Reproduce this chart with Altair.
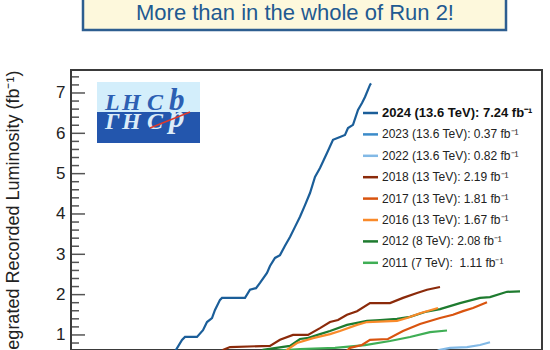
import altair as alt
import pandas as pd

# ---------------- data ----------------
years = ["2011", "2012", "2016", "2017", "2018", "2022", "2023", "2024"]
colors = ["#3fae55", "#1e7b2f", "#f98a2a", "#d9540f", "#8b2a0a", "#82b9e6", "#3b8bc9", "#1b5e99"]
widths = [2.2, 2.2, 2.2, 2.2, 2.2, 2.2, 2.2, 2.6]

day_2011 = [79.5, 99.5, 114.5, 132, 147, 159.5, 169.5, 179.5, 188]
lum_2011 = [0.0, 0.60, 0.65, 0.68, 0.75, 0.85, 0.95, 1.07, 1.11]

day_2012 = [84.5, 96, 109.5, 114.5, 118, 124.5, 129.5, 138, 148, 154.5, 163, 169.5, 177, 184.5, 194.5, 204.5, 209.5, 218, 224.5]
lum_2012 = [0.0, 0.63, 0.73, 0.90, 0.92, 1.02, 1.10, 1.25, 1.35, 1.37, 1.40, 1.45, 1.57, 1.64, 1.79, 1.92, 1.94, 2.07, 2.08]

day_2016 = [97, 108, 113, 121, 129.5, 134.5, 143, 148, 163, 168, 174.5, 183.5]
lum_2016 = [0.0, 0.63, 0.80, 0.92, 1.02, 1.10, 1.25, 1.32, 1.35, 1.42, 1.54, 1.67]

day_2017 = [124.5, 139.5, 145.5, 149.5, 158.5, 166, 174.5, 184.5, 191, 196, 201, 208]
lum_2017 = [0.0, 0.68, 0.75, 0.88, 0.90, 1.10, 1.27, 1.42, 1.50, 1.59, 1.67, 1.81]

day_2018 = [67, 76, 79.5, 99.5, 104.5, 111, 118.5, 124.5, 129.5, 133.5, 138, 143, 149.5, 159.5, 166, 173, 178, 184.5]
lum_2018 = [0.0, 0.63, 0.70, 0.73, 0.88, 1.00, 1.00, 1.17, 1.32, 1.37, 1.50, 1.59, 1.79, 1.79, 1.92, 2.04, 2.12, 2.19]

day_2022 = [154.5, 184.5, 189.5, 198, 204.5, 209.5]
lum_2022 = [0.0, 0.63, 0.68, 0.70, 0.75, 0.82]

day_2023 = [60, 100, 140, 175]
lum_2023 = [0.0, 0.10, 0.25, 0.37]

day_2024 = [44.5, 52.5, 55.5, 57, 63, 66, 68, 70.5, 72, 74.5, 75.5, 87, 89.5, 92.5, 94.5, 98, 99.5, 102,
            104.5, 107, 109.5, 112, 114.5, 117, 119.5, 122, 124.5, 128, 131, 134.5, 137, 138.5, 141,
            143.5, 145.5, 147, 149.5, 150]
lum_2024 = [0.0, 0.63, 0.875, 0.95, 0.95, 1.12, 1.32, 1.42, 1.62, 1.87, 1.92, 1.92, 2.12, 2.16, 2.29, 2.54,
            2.71, 2.91, 2.98, 3.21, 3.43, 3.68, 3.93, 4.22, 4.52, 4.92, 5.14, 5.51, 5.84, 5.91, 5.96, 6.13,
            6.21, 6.58, 6.75, 6.90, 7.20, 7.24]

legend_labels = [
    "2024 (13.6 TeV): 7.24 fb\u207b\u00b9",
    "2023 (13.6 TeV): 0.37 fb\u207b\u00b9",
    "2022 (13.6 TeV): 0.82 fb\u207b\u00b9",
    "2018 (13 TeV): 2.19 fb\u207b\u00b9",
    "2017 (13 TeV): 1.81 fb\u207b\u00b9",
    "2016 (13 TeV): 1.67 fb\u207b\u00b9",
    "2012 (8 TeV): 2.08 fb\u207b\u00b9",
    "2011 (7 TeV): \u00a01.11 fb\u207b\u00b9",
]
legend_years = ["2024", "2023", "2022", "2018", "2017", "2016", "2012", "2011"]
legend_bold = [True, False, False, False, False, False, False, False]

major_ticks = [1, 2, 3, 4, 5, 6, 7]
minor_ticks = [0.8, 1.2, 1.4, 1.6, 1.8, 2.2, 2.4, 2.6, 2.8, 3.2, 3.4, 3.6, 3.8, 4.2, 4.4, 4.6, 4.8,
               5.2, 5.4, 5.6, 5.8, 6.2, 6.4, 6.6, 6.8, 7.2, 7.4]

banner_text = "More than in the whole of Run 2!"
y_title = "Integrated Recorded Luminosity (fb\u207b\u00b9)"

# ---------------- build tables ----------------
series = {
    "2011": (day_2011, lum_2011), "2012": (day_2012, lum_2012), "2016": (day_2016, lum_2016),
    "2017": (day_2017, lum_2017), "2018": (day_2018, lum_2018), "2022": (day_2022, lum_2022),
    "2023": (day_2023, lum_2023), "2024": (day_2024, lum_2024),
}
rows = []
for yr in years:
    d, v = series[yr]
    for a, b in zip(d, v):
        rows.append({"year": yr, "day": a, "v": b})
df = pd.DataFrame(rows)
color_of = dict(zip(years, colors))

one = pd.DataFrame({"k": [0]})
FONT = "Liberation Sans"

W, H = 471, 280
Y_LO, Y_HI = 0.627, 7.57
x_scale = alt.Scale(domain=[0, 235.5], nice=False, zero=False)
y_scale = alt.Scale(domain=[Y_LO, Y_HI], nice=False, zero=False)

lines = alt.Chart(df).mark_line(clip=True).encode(
    x=alt.X("day:Q", scale=x_scale, axis=None),
    y=alt.Y("v:Q", scale=y_scale,
            axis=alt.Axis(values=major_ticks, ticks=False, domain=False, grid=False,
                          labelFont=FONT, labelFontSize=17, labelColor="#222", labelPadding=6,
                          title=y_title, titleFont=FONT, titleFontSize=18, titleFontWeight="normal",
                          titleColor="#222", titleAngle=270, titleAlign="right",
                          titleBaseline="alphabetic", titleX=-53, titleY=0)),
    color=alt.Color("year:N", scale=alt.Scale(domain=years, range=colors), legend=None),
    size=alt.Size("year:N", scale=alt.Scale(domain=years, range=widths), legend=None),
)


def tick_y(t):
    # pixel position of an axis tick value inside the plot area (same mapping as y_scale)
    return H * (Y_HI - t) / (Y_HI - Y_LO)


# inward-pointing ticks on the left frame (13 px major, 7 px minor), drawn as thin rectangles
tick_layers = []
for t in major_ticks:
    yy = tick_y(t)
    tick_layers.append(alt.Chart(one).mark_rect(color="#555", opacity=1).encode(
        x=alt.value(1), x2=alt.value(14), y=alt.value(yy - 0.75), y2=alt.value(yy + 0.75)))
for t in minor_ticks:
    yy = tick_y(t)
    tick_layers.append(alt.Chart(one).mark_rect(color="#555", opacity=1).encode(
        x=alt.value(1), x2=alt.value(8), y=alt.value(yy - 0.75), y2=alt.value(yy + 0.75)))

# legend (drawn by hand so that the 2024 entry can be bold)
legend_layers = []
for i, (lab, yr, bold) in enumerate(zip(legend_labels, legend_years, legend_bold)):
    row_y = 43 + 21.4 * i
    legend_layers.append(alt.Chart(one).mark_rule(color=color_of[yr], strokeWidth=2.5).encode(
        x=alt.value(292), x2=alt.value(307), y=alt.value(row_y)))
    legend_layers.append(alt.Chart(one).mark_text(
        text=lab, align="left", baseline="middle", font=FONT,
        fontSize=13 if bold else 12, fontWeight="bold" if bold else "normal",
        color="#111" if bold else "#222").encode(x=alt.value(311), y=alt.value(row_y)))

# banner above the frame
banner_box = alt.Chart(one).mark_rect(fill="#fdf8dc", stroke="#2d5e90", strokeWidth=2.5).encode(
    x=alt.value(12), x2=alt.value(435), y=alt.value(-85), y2=alt.value(-40))
banner_txt = alt.Chart(one).mark_text(text=banner_text, fontSize=22, font=FONT, color="#1f5a91",
                                      align="center", baseline="alphabetic").encode(
    x=alt.value(224), y=alt.value(-50.5))

# LHCb logo
logo_top = alt.Chart(one).mark_rect(fill="#d3eefb").encode(
    x=alt.value(26), x2=alt.value(129), y=alt.value(12), y2=alt.value(42))
logo_bot = alt.Chart(one).mark_rect(fill="#2356ad").encode(
    x=alt.value(26), x2=alt.value(129), y=alt.value(42), y2=alt.value(73))
logo_layers = [logo_top, logo_bot]
for ch, xx, fs in [("L", 34, 24), ("H", 51, 24), ("C", 76, 24), ("b", 98, 31)]:
    logo_layers.append(alt.Chart(one).mark_text(text=ch, font="Liberation Serif", fontStyle="italic",
                                                fontWeight="bold", fontSize=fs, color="#2c5fb3",
                                                align="left", baseline="alphabetic").encode(
        x=alt.value(xx), y=alt.value(40)))
for ch, xx, fs, yy in [("\u0393", 34, 24, 59), ("H", 51, 24, 59), ("C", 76, 24, 59), ("p", 98, 31, 57)]:
    logo_layers.append(alt.Chart(one).mark_text(text=ch, font="Liberation Serif", fontStyle="italic",
                                                fontWeight="bold", fontSize=fs, color="#dcecf8",
                                                align="left", baseline="alphabetic").encode(
        x=alt.value(xx), y=alt.value(yy)))
logo_layers.append(alt.Chart(one).mark_rule(color="#e0392b", strokeWidth=1.5).encode(
    x=alt.value(79), y=alt.value(58), x2=alt.value(119), y2=alt.value(42)))

chart = alt.layer(
    lines, *logo_layers, *legend_layers, banner_box, banner_txt, *tick_layers
).properties(
    width=W, height=H,
    autosize=alt.AutoSizeParams(type="none"),
    padding={"left": 71, "top": 70, "right": 8, "bottom": 0},
    background="white",
).configure_view(stroke="#3a3a3a", strokeWidth=2)

chart.save("out.html", embed_options={"renderer": "svg", "actions": False})
